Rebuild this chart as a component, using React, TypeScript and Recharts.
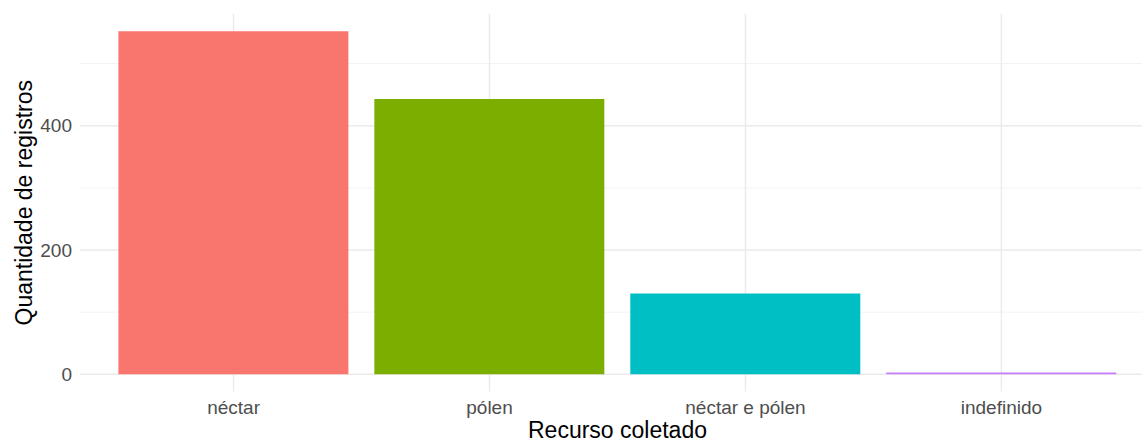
import React from 'react';
import { BarChart, Bar, XAxis, YAxis, CartesianGrid, Cell } from 'recharts';

const categories = ['néctar', 'pólen', 'néctar e pólen', 'indefinido'];
const counts = [552, 443, 130, 3];
const barColors = ['#F8766D', '#7CAE00', '#00BFC4', '#C77CFF'];
const yTicks = [0, 200, 400];
const yMinorTicks = [100, 300, 500];

const data = categories.map((name, i) => ({ name, count: counts[i] }));

// ggplot-style 5% expansion on the continuous axis
const pad = Math.max(...counts) * 0.05;
const yDomain = [-pad, Math.max(...counts) + pad];

const font = '"Liberation Sans", Arial, sans-serif';

const YTitle = ({ viewBox }: any) => {
  const cx = viewBox.x + 24;
  const cy = viewBox.y + viewBox.height / 2;
  return (
    <text
      x={cx} y={cy}
      transform={`rotate(-90, ${cx}, ${cy})`}
      textAnchor="middle" dominantBaseline="central"
      fontSize={23} fill="#000" fontFamily={font}
    >
      Quantidade de registros
    </text>
  );
};

export default function App() {
  return (
    <div style={{ position: 'fixed', left: 0, top: 0, width: 1142, height: 446, overflow: 'hidden', background: '#fff' }}>
      <BarChart
        width={1155} height={446} data={data}
        margin={{ top: 14, right: 0, bottom: 0, left: 0 }}
        barCategoryGap="5%"
        style={{ fontFamily: font }}
      >
        <CartesianGrid horizontalValues={yMinorTicks} vertical={false} stroke="#F3F3F3" strokeWidth={1} syncWithTicks />
        <CartesianGrid horizontalValues={yTicks} stroke="#EBEBEB" strokeWidth={1.5} syncWithTicks />
        <XAxis
          dataKey="name"
          axisLine={false} tickLine={false} tickMargin={3}
          height={54.5}
          padding={{ left: 25.6, right: 25.6 }}
          tick={{ fontSize: 19, fill: '#4D4D4D', fontFamily: font }}
          label={{ value: 'Recurso coletado', position: 'insideBottom', offset: 8, fontSize: 23, fill: '#000', fontFamily: font }}
        />
        <YAxis
          width={80}
          domain={yDomain} allowDataOverflow
          ticks={yTicks}
          axisLine={false} tickLine={false}
          tick={{ fontSize: 19, fill: '#4D4D4D', fontFamily: font }}
          label={{ content: <YTitle /> }}
        />
        <Bar dataKey="count" isAnimationActive={false}>
          {data.map((d, i) => (
            <Cell key={d.name} fill={barColors[i]} />
          ))}
        </Bar>
      </BarChart>
    </div>
  );
}
